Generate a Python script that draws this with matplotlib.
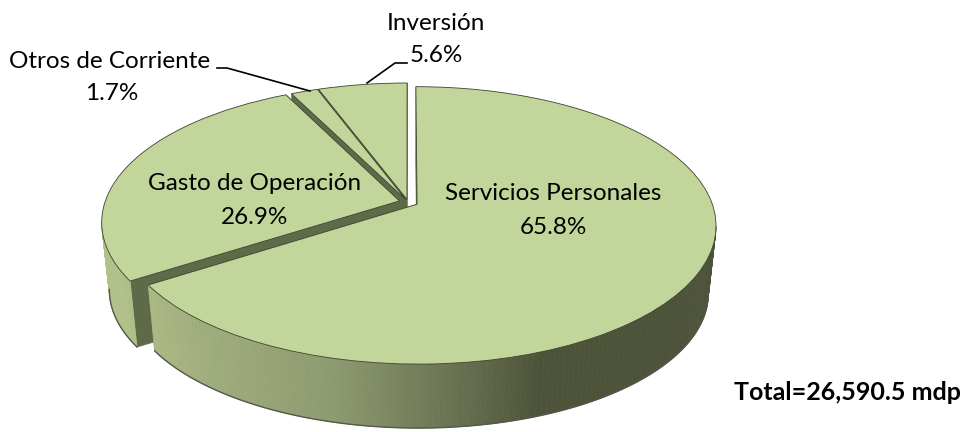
#Pie chart with perspective
import matplotlib
matplotlib.use("Agg")
import matplotlib.pyplot as plt
import matplotlib.transforms as mtransforms
import numpy as np

categories = ["Servicios Personales", "Gasto de Operación", "Otros de Corriente", "Inversión"]
values = [65.8, 26.9, 1.7, 5.6]
value_labels = ["65.8%", "26.9%", "1.7%", "5.6%"]
total_label = "Total=26,590.5 mdp"
explode = [0.035, 0.03, 0.02, 0.02]

#view of the pie
Cx = 408
Cy = 202
Sx = 294.5
Sy = 134.8
K = 0.152
Depth = 68
Shrink = 0.975

top_color = "#c2d59b"
cut_color = "#5f6b48"
edge_color = "#3c4230"

plt.rcParams['font.family'] = ['Lato', 'DejaVu Sans']


def view(u, v, low=False):
    w = 1 + K*v
    X = Sx*u/w
    Y = Sy*v/w
    if low:
        return Cx + Shrink*X, Cy - Shrink*Y + Depth
    return Cx + X, Cy - Y


class PieView(mtransforms.Transform):
    input_dims = 2
    output_dims = 2

    def transform_non_affine(self, xy):
        x, y = view(xy[:, 0], xy[:, 1])
        return np.column_stack([x, y])


def wall_color(x):
    r = np.interp(x, [120, 200, 330, 450, 540], [178, 160, 142, 105, 77])
    g = np.interp(x, [120, 200, 330, 450, 540], [192, 173, 154, 115, 83])
    b = np.interp(x, [120, 200, 330, 450, 540], [137, 124, 112, 82, 57])
    return (r/255, g/255, b/255)


fig = plt.figure(figsize=(9.65, 4.32), dpi=100)
ax = fig.add_axes([0, 0, 1, 1])

wedges, _ = ax.pie(values, explode=explode, startangle=90, counterclock=False,
                   wedgeprops=dict(facecolor=top_color, edgecolor=edge_color, linewidth=0.6))

ax.set_aspect("auto")
ax.set_xlim(0, 965)
ax.set_ylim(432, 0)
ax.axis("off")

#back slices first, the big one last
for order, i in enumerate([3, 2, 1, 0]):
    wedge = wedges[i]
    z = 2 + order*3
    cu, cv = wedge.center
    a = np.radians(np.linspace(wedge.theta1, wedge.theta2, 240))
    u = cu + np.cos(a)
    v = cv + np.sin(a)

    #cut faces
    for end in [0, -1]:
        x0, y0 = view(np.array([cu, u[end]]), np.array([cv, v[end]]))
        x1, y1 = view(np.array([cu, u[end]]), np.array([cv, v[end]]), low=True)
        ax.fill([x0[0], x0[1], x1[1], x1[0]], [y0[0], y0[1], y1[1], y1[0]],
                color=cut_color, lw=0.4, zorder=z)

    #rim, only the part that looks at us
    xt, yt = view(u, v)
    xb, yb = view(u, v, low=True)
    for j in range(len(a) - 1):
        if np.sin((a[j] + a[j+1])/2) < -K:
            ax.fill([xt[j], xt[j+1], xb[j+1], xb[j]], [yt[j], yt[j+1], yb[j+1], yb[j]],
                    color=wall_color(xt[j]), lw=0.5, zorder=z + 1)
    front = np.sin(a) < -K
    ax.plot(xb[front], yb[front], color="#55584c", lw=1.0, zorder=z + 1)

    wedge.set_transform(PieView() + ax.transData)
    wedge.set_zorder(z + 2)

#labels
ax.text(553, 193, categories[0], fontsize=17.5, ha="center", va="center", zorder=30)
ax.text(553, 227, value_labels[0], fontsize=17.5, ha="center", va="center", zorder=30)
ax.text(255, 183, categories[1], fontsize=17.5, ha="center", va="center", zorder=30)
ax.text(255, 217, value_labels[1], fontsize=17.5, ha="center", va="center", zorder=30)
ax.text(110, 61, categories[2], fontsize=17.5, ha="center", va="center", zorder=30)
ax.text(112, 93, value_labels[2], fontsize=17.5, ha="center", va="center", zorder=30)
ax.text(436, 23, categories[3], fontsize=17.5, ha="center", va="center", zorder=30)
ax.text(436, 55, value_labels[3], fontsize=17.5, ha="center", va="center", zorder=30)
ax.text(847, 392, total_label, fontsize=18, fontweight="bold", ha="center", va="center", zorder=30)

#leader lines
ax.plot([217, 227, 310], [68, 68, 91], color="black", lw=1.2, zorder=30)
ax.plot([407, 395, 367], [63, 63, 83], color="black", lw=1.2, zorder=30)

fig.savefig("out.png", dpi=100)
